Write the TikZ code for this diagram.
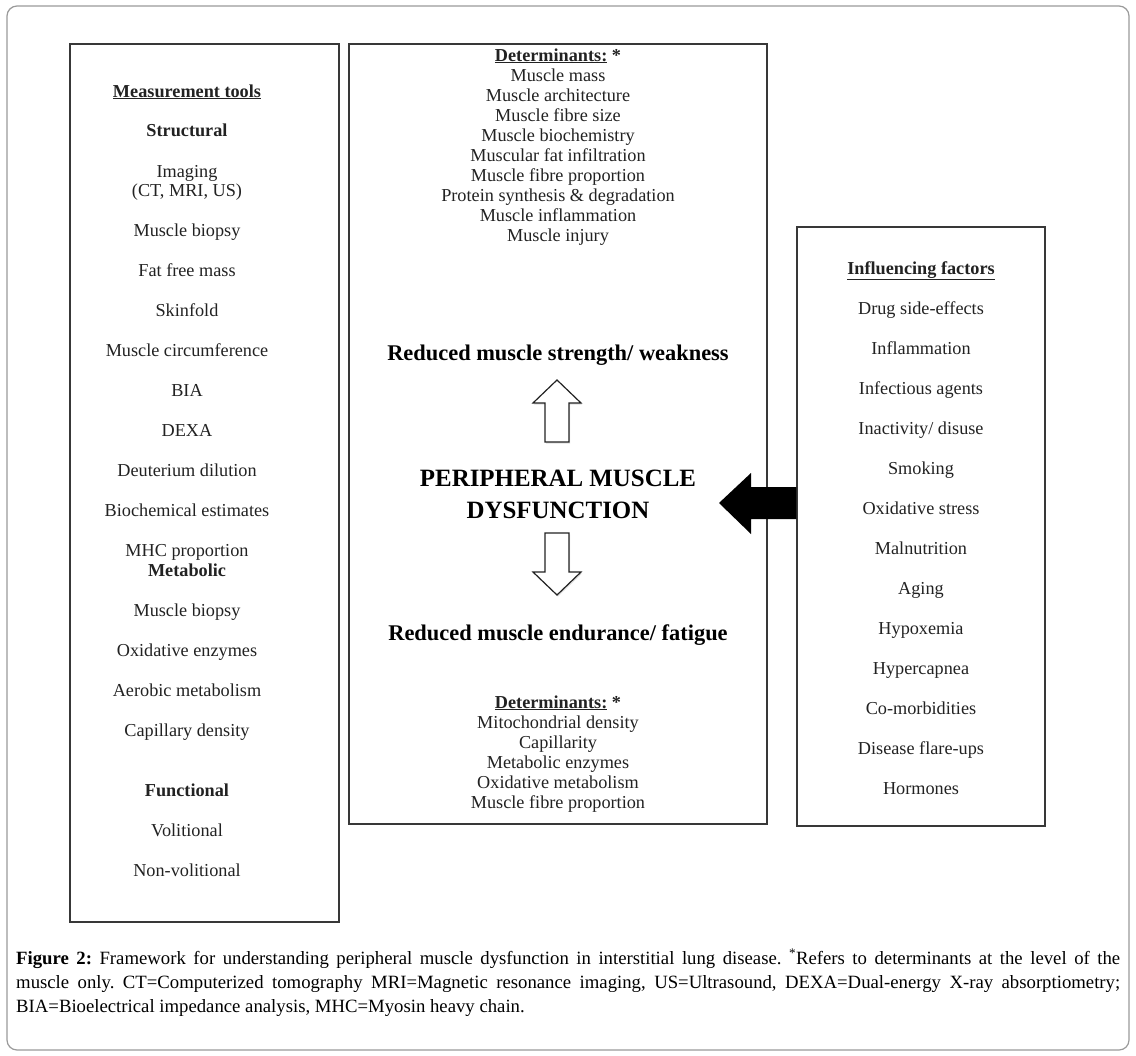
\documentclass[tikz,border=0pt]{standalone}
\usepackage{fontspec}
\setmainfont{Liberation Serif}
\usetikzlibrary{shadows}
\definecolor{ink}{HTML}{222222}
\definecolor{frame}{HTML}{9A9A9A}
\begin{document}
\begin{tikzpicture}[x=1bp,y=-1bp,
  panel/.style={draw=ink!90, line width=1.4bp, fill=white,
    drop shadow={opacity=0.25, shadow xshift=1.2bp, shadow yshift=-1.2bp}},
  txt/.style={inner sep=0pt, anchor=base, text=ink, font=\fontsize{18.3}{22}\selectfont},
  hd/.style={txt, font=\fontsize{18.3}{22}\selectfont\bfseries},
  big/.style={inner sep=0pt, anchor=base, text=black, font=\fontsize{22.5}{26}\selectfont\bfseries},
  title/.style={inner sep=0pt, anchor=base, text=black, font=\fontsize{25}{32}\selectfont\bfseries},
  hollow/.style={draw=ink, line width=1.2bp, fill=white,
    drop shadow={opacity=0.25, shadow xshift=1bp, shadow yshift=-1.5bp}}
]
\useasboundingbox (0,0) rectangle (1136,1056);
\fill[white] (0,0) rectangle (1136,1056);
% outer frame
\draw[frame, line width=1.2bp, rounded corners=10bp] (7,6) rectangle (1129,1050);

% panels
\node[panel, minimum width=269bp, minimum height=878bp, inner sep=0pt] (left) at (204.5,483) {};
\node[panel, minimum width=418bp, minimum height=780bp, inner sep=0pt] (mid) at (558,434) {};
\node[panel, minimum width=248bp, minimum height=599bp, inner sep=0pt] (right) at (921,526.5) {};

% left panel text
\node[hd] (lh) at (187,97) {\underline{Measurement tools}};
\node[hd] (ls) at (187,136) {Structural};
\foreach \t/\y [count=\i] in {Imaging/177,{(CT, MRI, US)}/196,Muscle biopsy/236,Fat free mass/276,Skinfold/316,Muscle circumference/356,BIA/396,DEXA/436,Deuterium dilution/476,Biochemical estimates/516,MHC proportion/556}
  \node[txt] (la\i) at (187,\y) {\t};
\node[hd] (lm) at (187,576) {Metabolic};
\foreach \t/\y [count=\i] in {Muscle biopsy/616,Oxidative enzymes/656,Aerobic metabolism/696,Capillary density/736}
  \node[txt] (lb\i) at (187,\y) {\t};
\node[hd] (lf) at (187,796) {Functional};
\node[txt] (lc1) at (187,836) {Volitional};
\node[txt] (lc2) at (187,876) {Non-volitional};

% middle panel text
\node[hd] (md1) at (558,61) {\underline{Determinants:} *};
\foreach \t/\y [count=\i] in {Muscle mass/81,Muscle architecture/101,Muscle fibre size/121,Muscle biochemistry/141,Muscular fat infiltration/161,Muscle fibre proportion/181,Protein synthesis \& degradation/201,Muscle inflammation/221,Muscle injury/241}
  \node[txt] (ma\i) at (558,\y) {\t};
\node[big] (strength) at (558,360) {Reduced muscle strength/ weakness};
\node[title] (pmd1) at (558,486) {PERIPHERAL MUSCLE};
\node[title] (pmd2) at (558,518) {DYSFUNCTION};
\node[big] (endur) at (558,640) {Reduced muscle endurance/ fatigue};
\node[hd] (md2) at (558,708) {\underline{Determinants:} *};
\foreach \t/\y [count=\i] in {Mitochondrial density/728,Capillarity/748,Metabolic enzymes/768,Oxidative metabolism/788,Muscle fibre proportion/808}
  \node[txt] (mb\i) at (558,\y) {\t};

% hollow arrows
\draw[hollow] (557,380) -- (581,403) -- (569,403) -- (569,442) -- (545,442) -- (545,403) -- (533,403) -- cycle;
\draw[hollow] (545,533) -- (569,533) -- (569,572) -- (581,572) -- (557,595) -- (533,572) -- (545,572) -- cycle;

% black arrow from influencing factors
\fill[black] (right.west |- 0,487) -- (751,487) -- (751,473) -- (719,503) -- (751,534) -- (751,519) -- (right.west |- 0,519) -- cycle;

% right panel text
\node[hd] (rh) at (921,274) {\underline{Influencing factors}};
\foreach \t/\y [count=\i] in {Drug side-effects/314,Inflammation/354,Infectious agents/394,{Inactivity/ disuse}/434,Smoking/474,Oxidative stress/514,Malnutrition/554,Aging/594,Hypoxemia/634,Hypercapnea/674,Co-morbidities/714,Disease flare-ups/754,Hormones/794}
  \node[txt] (r\i) at (921,\y) {\t};

% caption
\node[anchor=north west, inner sep=0pt, text width=1104bp, align=justify, text=black,
  font=\fontsize{18.8}{24.5}\selectfont\frenchspacing] (cap) at (16,949)
  {\textbf{Figure 2:} Framework for understanding peripheral muscle dysfunction in interstitial lung disease. \textsuperscript{*}Refers to determinants at the level of the\linebreak
   muscle only. CT=Computerized tomography MRI=Magnetic resonance imaging, US=Ultrasound, DEXA=Dual-energy X-ray absorptiometry;\linebreak
   BIA=Bioelectrical impedance analysis, MHC=Myosin heavy chain.};
\end{tikzpicture}
\end{document}
